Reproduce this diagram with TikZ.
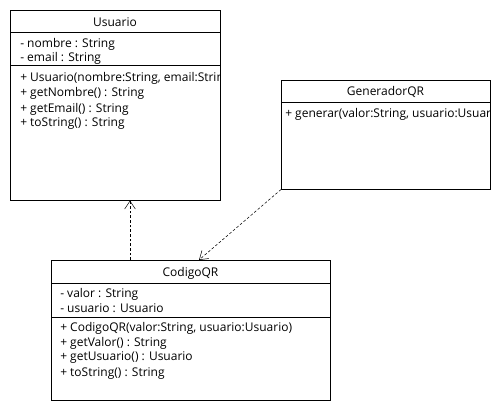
\documentclass[tikz,border=0pt]{standalone}
\usepackage{fontspec}
\setmainfont{Open Sans}
\usetikzlibrary{arrows.meta}

\begin{document}
\begin{tikzpicture}[x=0.75pt,y=0.75pt,yscale=-1,xscale=1]
        \tikzset{classbox/.style={draw, rectangle, inner sep=0pt, anchor=north west},
                 classname/.style={inner sep=0pt, font=\fontsize{9}{10}\selectfont},
                 member/.style={anchor=west, inner sep=0pt, font=\fontsize{9}{10}\selectfont},
                 depend/.style={dash pattern=on 2pt off 1.5pt, -{Straight Barb[length=6pt,width=8pt]}}}
        \useasboundingbox (0,0) rectangle (500,410);

        %Class: Usuario
        \node [classbox, minimum width=157.5pt, minimum height=142.5pt] (usuario) at (10,10) {};
        \draw (10,32) -- (220,32) ;
        \draw (10,65) -- (220,65) ;
        \begin{scope}
        \clip (usuario.north west) rectangle (usuario.south east);
        \node [classname] (usuarioname) at (115,22) {Usuario};
        \node [member] (unombre) at (20,44) {- nombre : String};
        \node [member] (uemail) at (20,58) {- email : String};
        \node [member] (uctor) at (20,78) {+ Usuario(nombre:String, email:String)};
        \node [member] (ugetnombre) at (20,93) {+ getNombre() : String};
        \node [member] (ugetemail) at (20,109) {+ getEmail() : String};
        \node [member] (utostring) at (20,124) {+ toString() : String};
        \end{scope}

        %Class: GeneradorQR
        \node [classbox, minimum width=156.75pt, minimum height=81.75pt] (generador) at (281,80) {};
        \draw (281,102) -- (490,102) ;
        \begin{scope}
        \clip (generador.north west) rectangle (generador.south east);
        \node [classname] (generadorname) at (385.5,92) {GeneradorQR};
        \node [member] (ggenerar) at (285,114) {+ generar(valor:String, usuario:Usuario)};
        \end{scope}

        %Class: CodigoQR
        \node [classbox, minimum width=209.25pt, minimum height=105pt] (codigo) at (51,260) {};
        \draw (51,283) -- (330,283) ;
        \draw (51,317) -- (330,317) ;
        \begin{scope}
        \clip (codigo.north west) rectangle (codigo.south east);
        \node [classname] (codigoname) at (190.5,273) {CodigoQR};
        \node [member] (cvalor) at (60,294) {- valor : String};
        \node [member] (cusuario) at (60,308) {- usuario : Usuario};
        \node [member] (cctor) at (60,328) {+ CodigoQR(valor:String, usuario:Usuario)};
        \node [member] (cgetvalor) at (60,343) {+ getValor() : String};
        \node [member] (cgetusuario) at (60,358) {+ getUsuario() : Usuario};
        \node [member] (ctostring) at (60,374) {+ toString() : String};
        \end{scope}

        %Dependencies
        \coordinate (dep1) at ([xshift=59.25pt]codigo.north west);
        \coordinate (dep2) at ([xshift=111pt]codigo.north west);
        \draw [depend] (dep1) -- (dep1 |- usuario.south) ;
        \draw [depend] (generador.south west) -- (dep2) ;
\end{tikzpicture}
\end{document}
